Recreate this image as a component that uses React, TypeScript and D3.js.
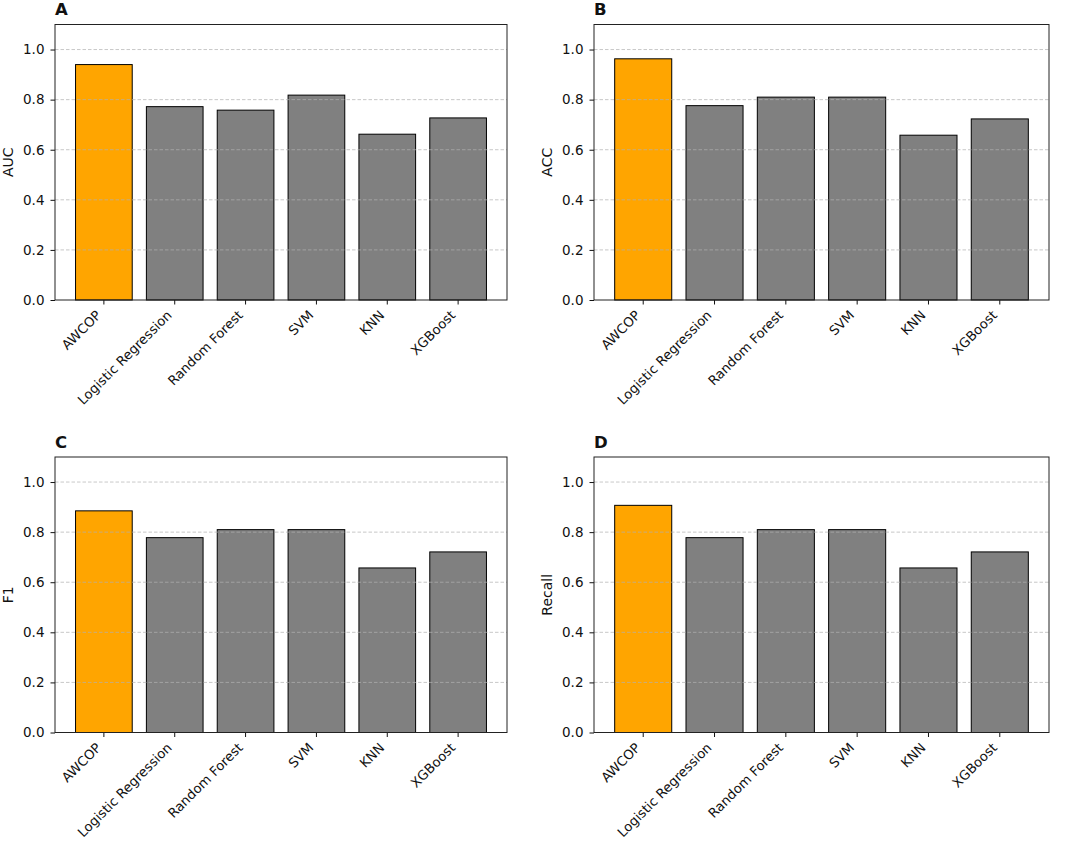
import { useEffect, useRef } from "react";
import * as d3 from "d3";

const categories = ["AWCOP", "Logistic Regression", "Random Forest", "SVM", "KNN", "XGBoost"];
const aucValues = [0.94, 0.772, 0.758, 0.818, 0.662, 0.727];
const accValues = [0.963, 0.776, 0.81, 0.81, 0.658, 0.723];
const f1Values = [0.885, 0.778, 0.81, 0.81, 0.657, 0.721];
const recallValues = [0.907, 0.778, 0.81, 0.81, 0.657, 0.721];
const metricNames = ["AUC", "ACC", "F1", "Recall"];
const panelLetters = ["A", "B", "C", "D"];
const yTicks = [0, 0.2, 0.4, 0.6, 0.8, 1.0];

const W = 1065;
const H = 846;
const FONT = "DejaVu Sans, sans-serif";

function drawPanel(
  svg: d3.Selection<SVGSVGElement, unknown, null, undefined>,
  values: number[],
  metric: string,
  letter: string,
  box: { x0: number; x1: number; y0: number; y1: number },
) {
  const g = svg.append("g");
  const x = d3.scaleLinear().domain([-0.69, categories.length - 1 + 0.69]).range([box.x0, box.x1]);
  const y = d3.scaleLinear().domain([0, 1.1]).range([box.y1, box.y0]);
  const bw = x(0.8) - x(0);

  // bars
  g.selectAll("rect.bar")
    .data(values)
    .join("rect")
    .attr("class", "bar")
    .attr("x", (d, i) => x(i) - bw / 2)
    .attr("y", (d) => y(d))
    .attr("width", bw)
    .attr("height", (d) => y(0) - y(d))
    .attr("fill", (d, i) => (i === 0 ? "#FFA500" : "#808080"))
    .attr("stroke", "#000")
    .attr("stroke-width", 1);

  // grid lines on top of bars (matplotlib default)
  g.selectAll("line.grid")
    .data(yTicks.slice(1))
    .join("line")
    .attr("x1", box.x0)
    .attr("x2", box.x1)
    .attr("y1", (d) => y(d))
    .attr("y2", (d) => y(d))
    .attr("stroke", "#b0b0b0")
    .attr("stroke-opacity", 0.7)
    .attr("stroke-width", 1)
    .attr("stroke-dasharray", "3.5,2");

  // y axis
  const yAxis = d3
    .axisLeft(y)
    .tickValues(yTicks)
    .tickFormat(d3.format(".1f"))
    .tickSize(4.5)
    .tickPadding(6);
  const ya = g.append("g").attr("transform", `translate(${box.x0},0)`).call(yAxis);
  ya.select(".domain").remove();
  ya.selectAll("text").attr("font-family", FONT).attr("font-size", 13.5).attr("fill", "#111");
  ya.selectAll("line").attr("stroke", "#111");

  // x axis ticks
  const xa = g.append("g");
  xa.selectAll("line")
    .data(categories)
    .join("line")
    .attr("x1", (d, i) => x(i))
    .attr("x2", (d, i) => x(i))
    .attr("y1", box.y1)
    .attr("y2", box.y1 + 4.5)
    .attr("stroke", "#111");
  xa.selectAll("text")
    .data(categories)
    .join("text")
    .attr("transform", (d, i) => `translate(${x(i) - 2},${box.y1 + 16}) rotate(-45)`)
    .attr("text-anchor", "end")
    .attr("font-family", FONT)
    .attr("font-size", 13.2)
    .attr("fill", "#111")
    .text((d) => d);

  // frame
  g.append("rect")
    .attr("x", box.x0)
    .attr("y", box.y0)
    .attr("width", box.x1 - box.x0)
    .attr("height", box.y1 - box.y0)
    .attr("fill", "none")
    .attr("stroke", "#222")
    .attr("stroke-width", 1);

  // y label
  g.append("text")
    .attr("transform", `translate(${box.x0 - 42},${(box.y0 + box.y1) / 2}) rotate(-90)`)
    .attr("text-anchor", "middle")
    .attr("font-family", FONT)
    .attr("font-size", 14)
    .attr("fill", "#111")
    .text(metric);

  // panel letter
  g.append("text")
    .attr("x", box.x0)
    .attr("y", box.y0 - 9.5)
    .attr("font-family", FONT)
    .attr("font-weight", "bold")
    .attr("font-size", 16.5)
    .attr("fill", "#111")
    .text(letter);
}

function drawChart(svgEl: SVGSVGElement) {
  const svg = d3.select(svgEl);
  svg.selectAll("*").remove();
  svg.append("rect").attr("width", W).attr("height", H).attr("fill", "#fff");

  const allValues = [aucValues, accValues, f1Values, recallValues];
  const cols = [
    { x0: 55, x1: 507 },
    { x0: 594, x1: 1049 },
  ];
  const rows = [
    { y0: 24.5, y1: 300 },
    { y0: 457, y1: 732.5 },
  ];
  allValues.forEach((vals, k) => {
    const c = cols[k % 2];
    const r = rows[Math.floor(k / 2)];
    drawPanel(svg, vals, metricNames[k], panelLetters[k], { ...c, ...r });
  });
}

export default function App() {
  const ref = useRef<SVGSVGElement>(null);
  useEffect(() => {
    document.body.style.margin = "0";
    if (ref.current) drawChart(ref.current);
  }, []);
  return <svg ref={ref} width={W} height={H} style={{ display: "block" }} />;
}
